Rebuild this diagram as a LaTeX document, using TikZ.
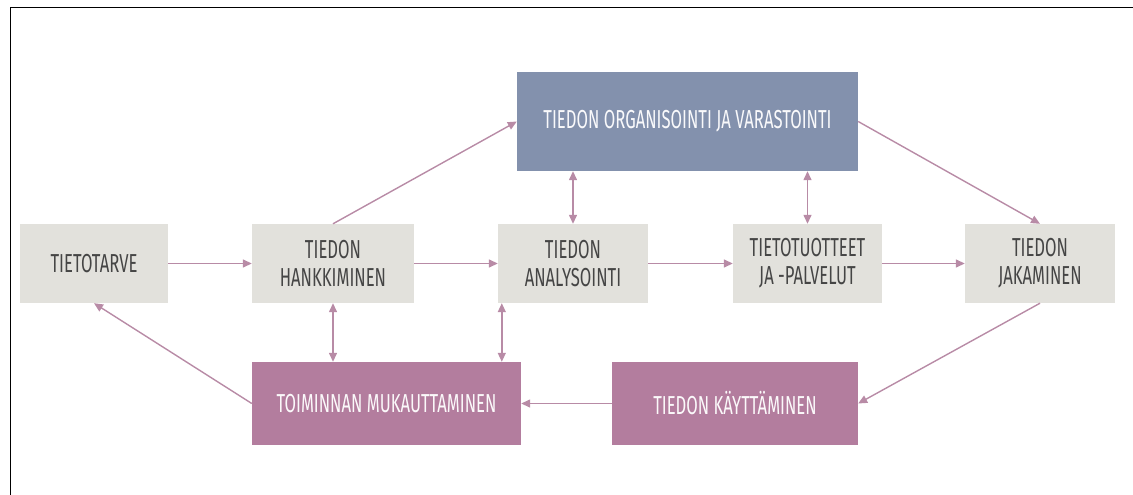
\documentclass[tikz,border=0pt]{standalone}
\usepackage{fontspec}
\setmainfont{Fira Sans}[FakeStretch=0.64]
\usepackage{tikz}
\usetikzlibrary{arrows.meta,calc}
\definecolor{boxgrey}{HTML}{E2E1DC}
\definecolor{boxblue}{HTML}{8391AD}
\definecolor{boxmauve}{HTML}{B37D9E}
\definecolor{linkmauve}{HTML}{B88BA6}
\definecolor{txtgrey}{HTML}{454545}

\begin{document}
\begin{tikzpicture}[x=1pt, y=-1pt,
    box/.style={rectangle, inner sep=0pt, align=center, font=\fontsize{26}{28}\selectfont},
    greybox/.style={box, fill=boxgrey, text=txtgrey, minimum height=79pt},
    bluebox/.style={box, fill=boxblue, text=white!95!boxblue, minimum height=99pt},
    mauvebox/.style={box, fill=boxmauve, text=white!95!boxmauve, minimum height=83pt},
    link/.style={draw=linkmauve, line width=1.4pt, -{Triangle[length=9pt,width=8pt]}},
    twoway/.style={link, {Triangle[length=9pt,width=8pt]}-{Triangle[length=9pt,width=8pt]}}]
    \useasboundingbox (0,0) rectangle (1133,495);
    \draw[line width=1pt] (10,495) -- (10,8) -- (1133,8);

    \coordinate (N) at (94,263.5);
    \coordinate (H) at (333,263.5);
    \coordinate (A) at (573,263.5);
    \coordinate (P) at (807.5,263.5);
    \coordinate (J) at (1040,263.5);
    \coordinate (S) at (687.5,121.5);
    \coordinate (M) at (386.5,403.5);
    \coordinate (K) at (735,403.5);

    \node[greybox, minimum width=148pt] (need) at (N) {TIETOTARVE};
    \node[greybox, minimum width=162pt] (acquire) at (H) {TIEDON\\HANKKIMINEN};
    \node[greybox, minimum width=150pt] (analyse) at (A) {TIEDON\\ANALYSOINTI};
    \node[greybox, minimum width=149pt] (products) at (P) {TIETOTUOTTEET\\JA -PALVELUT};
    \node[greybox, minimum width=150pt] (share) at (J) {TIEDON\\JAKAMINEN};
    \node[bluebox, minimum width=341pt] (store) at (S) {TIEDON ORGANISOINTI JA VARASTOINTI};
    \node[mauvebox, minimum width=269pt] (adapt) at (M) {TOIMINNAN MUKAUTTAMINEN};
    \node[mauvebox, minimum width=246pt] (use) at (K) {TIEDON KÄYTTÄMINEN};

    \draw[link] (need) -- (acquire);
    \draw[link] (acquire) -- (analyse);
    \draw[link] (analyse) -- (products);
    \draw[link] (products) -- (share);
    \draw[link] (acquire.north) -- (store.west);
    \draw[link] (store.east) -- (share.north);
    \draw[link] (share.south) -- (use.east);
    \draw[link] (use) -- (adapt);
    \draw[link] (adapt.west) -- (need.south);

    \foreach \n in {analyse,products} {\draw[twoway] (\n.north) -- (\n.north |- store.south);}
    \draw[twoway] (acquire.south) -- (acquire.south |- adapt.north);
    \coordinate (T) at ($(analyse.south west)+(4,0)$);
    \draw[twoway] (T) -- (T |- adapt.north);
\end{tikzpicture}
\end{document}
